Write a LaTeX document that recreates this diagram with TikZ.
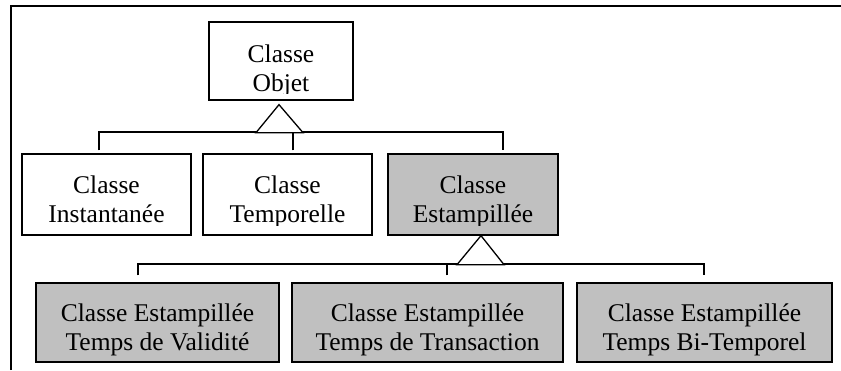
\documentclass[tikz,border=0pt]{standalone}
\usepackage{fontspec}
\setmainfont{Liberation Serif}
\usetikzlibrary{calc}
\definecolor{boxgray}{HTML}{C0C0C0}
\tikzset{
  box/.style={draw=black, line width=1.3pt, rectangle, inner sep=0pt, fill=white},
  graybox/.style={box, fill=boxgray},
  txt/.style={anchor=base, inner sep=0pt, font=\fontsize{25.5}{29}\selectfont},
  conn/.style={draw=black, line width=1.3pt},
  tri/.style={draw=black, line width=1.3pt, fill=white, line join=miter},
  frame/.style={draw=black, line width=1.3pt}
}
\newcommand{\twolines}[7]{% name, cx, y1, y2, line1, line2, bottom inset
  \begin{scope}
    \clip ([yshift=#7pt]#1.south west) rectangle (#1.north east);
    \node[txt] (#1a) at (#2,#3) {#5};
    \node[txt] (#1b) at (#2,#4) {#6};
  \end{scope}}
\begin{document}
\begin{tikzpicture}[x=1pt,y=-1pt]
\useasboundingbox (0,0) rectangle (841,370);
% frame (partial)
\coordinate (fBL) at (11,370);
\coordinate (fTL) at (11,6);
\coordinate (fTR) at (841,6);
\draw[frame] (fBL) -- (fTL) -- (fTR);

% boxes
\node[box, minimum width=144pt, minimum height=78pt] (O) at (281,61) {};
\node[box, minimum width=169pt, minimum height=81pt] (I) at (106.5,194.5) {};
\node[box, minimum width=169pt, minimum height=81pt] (T) at (287.5,194.5) {};
\node[graybox, minimum width=170pt, minimum height=81pt] (E) at (473,194.5) {};
\node[graybox, minimum width=243pt, minimum height=79pt] (V) at (157.5,322.5) {};
\node[graybox, minimum width=271pt, minimum height=79pt] (R) at (427.5,322.5) {};
\node[graybox, minimum width=255pt, minimum height=79pt] (B) at (704.5,322.5) {};

% texts
\twolines{O}{281}{62}{91}{Classe}{Objet}{7}
\twolines{I}{106.5}{193}{222}{Classe}{Instantanée}{10}
\twolines{T}{287.5}{193}{222}{Classe}{Temporelle}{10}
\twolines{E}{473}{193}{222}{Classe}{Estampillée}{10}
\twolines{V}{157.5}{321}{350}{Classe Estampillée}{Temps de Validité}{7}
\twolines{R}{427.5}{321}{350}{Classe Estampillée}{Temps de Transaction}{7}
\twolines{B}{704.5}{321}{350}{Classe Estampillée}{Temps Bi-Temporel}{7}

% first level generalisation
\coordinate (bus1) at (0,132);
\coordinate (dI) at ([xshift=-7.5pt,yshift=3pt]I.north);
\coordinate (dT) at ([xshift=5.5pt,yshift=3pt]T.north);
\coordinate (dE) at ([xshift=30pt,yshift=3pt]E.north);
\draw[conn] (dI) -- (dI |- bus1) -- (dE |- bus1) -- (dE);
\draw[conn] (dT) -- (dT |- bus1);
\coordinate (a1) at ([xshift=-2pt,yshift=-4pt]O.south);
\draw[tri] (a1) -- ($(a1)+(-23,28)$) -- ($(a1)+(24,28)$) -- cycle;

% second level generalisation
\coordinate (bus2) at (0,264);
\coordinate (dV) at ([xshift=-19.5pt,yshift=7pt]V.north);
\coordinate (dR) at ([xshift=19.5pt,yshift=7pt]R.north);
\coordinate (dB) at ([xshift=-0.5pt,yshift=7pt]B.north);
\draw[conn] (dV) -- (dV |- bus2) -- (dB |- bus2) -- (dB);
\draw[conn] (dR) -- (dR |- bus2);
\coordinate (a2) at ([xshift=8pt]E.south);
\draw[tri] (a2) -- ($(a2)+(-24,29)$) -- ($(a2)+(23,29)$) -- cycle;
\end{tikzpicture}
\end{document}
